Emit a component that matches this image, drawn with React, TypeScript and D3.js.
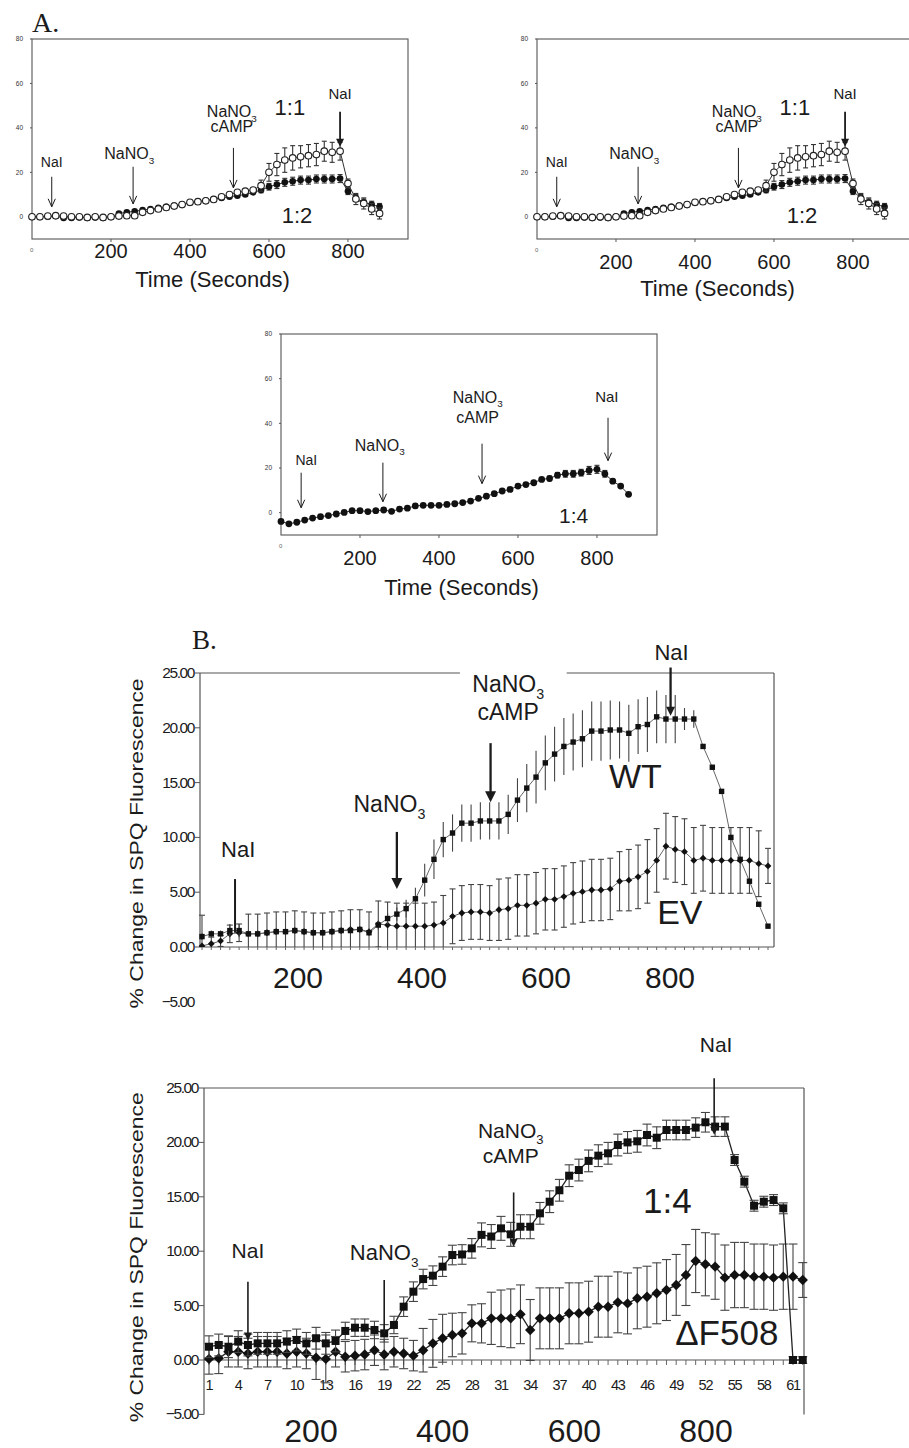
import * as React from "react"
import * as d3 from "d3"

const FONT = "'Liberation Sans', Arial, Helvetica, sans-serif"
const SERIF = "'Liberation Serif', 'Times New Roman', serif"
const INK = "#1b1b1b"

// ---------- panel A : SPQ traces against time (s) ----------
const timesA = [0, 20, 40, 60, 80, 100, 120, 140, 160, 180,
    200, 220, 240, 260, 280, 300, 320, 340, 360, 380,
    400, 420, 440, 460, 480, 500, 520, 540, 560, 580,
    600, 620, 640, 660, 680, 700, 720, 740, 760, 780,
    800, 820, 840, 860, 880]

const ratio11 = [0, 0, 0.3, 0.5, 0.3, 0, 0, -0.3, 0, -0.3,
    0, 0.3, 0.5, 0.5, 2.0, 2.8, 3.5, 4.2, 4.8, 5.5,
    6.5, 6.8, 7.2, 7.8, 9.0, 10.0, 11.0, 11.5, 12.0, 14.0,
    20.0, 23.5, 25.5, 26.5, 27.0, 27.5, 28.0, 29.5, 29.0, 29.5,
    15.0, 8.0, 6.0, 3.5, 1.5]
const ratio11Err = [0, 0, 0, 0, 0, 0, 0, 0, 0, 0,
    0, 0, 0, 0, 0, 0, 0, 0, 0, 0,
    0, 0, 0, 0, 0.8, 0.8, 1.0, 1.0, 1.0, 2.5,
    4.0, 5.0, 5.5, 5.5, 5.0, 5.0, 5.0, 4.5, 4.5, 4.0,
    2.0, 2.5, 2.5, 2.5, 2.5]

const ratio12 = [0, 0, 0, 0.3, -0.5, -0.5, -0.3, -0.5, -0.3, -0.5,
    0, 1.5, 2.0, 2.5, 3.0, 3.5, 4.0, 4.5, 5.0, 5.5,
    6.3, 6.8, 7.3, 7.8, 8.5, 9.0, 9.5, 10.0, 11.0, 12.0,
    13.5, 14.5, 15.5, 16.0, 16.5, 16.5, 17.0, 17.0, 17.0, 17.2,
    11.5, 8.5, 6.5, 5.5, 4.5]
const ratio12Err = [0, 0, 0, 0, 0, 0, 0, 0, 0, 0,
    0, 0, 0, 0, 0, 0, 0, 0, 0, 0,
    0, 0, 0, 0, 0.6, 0.6, 0.6, 0.8, 0.8, 1.2,
    1.5, 1.8, 1.8, 1.8, 1.8, 1.8, 1.8, 1.8, 1.8, 1.8,
    1.5, 1.5, 1.5, 1.5, 1.5]

const ratio14 = [-3.9, -5.0, -4.3, -3.3, -2.4, -1.8, -1.3, -0.6, 0.1, 0.9,
    0.9, 0.5, 0.9, 1.2, 0.6, 1.6, 2.0, 3.0, 3.3, 3.3,
    3.3, 3.7, 4.0, 4.5, 5.2, 6.4, 7.4, 8.5, 9.7, 10.4,
    11.9, 12.6, 13.4, 14.9, 15.3, 16.8, 17.4, 17.4, 17.9, 18.9,
    19.4, 17.4, 14.1, 11.9, 8.2]
const ratio14Err = [0, 0, 0, 0, 0, 0, 0, 0, 0, 0,
    0, 0, 0, 0, 0, 0, 0, 0, 0, 0,
    0, 0, 0, 0, 0, 0, 0, 0, 0, 0,
    0, 0, 0, 0, 1.0, 1.2, 1.5, 1.5, 1.5, 1.8,
    1.8, 1.5, 0.5, 0.5, 0.5]

const yTicksA = [0, 20, 40, 60, 80]
const xTicksA = [200, 400, 600, 800]

// ---------- panel B : % change in SPQ fluorescence per sample ----------
const wtB = [0.95, 1.2, 1.2, 1.5, 1.5, 1.2, 1.2, 1.3, 1.4, 1.4,
    1.5, 1.4, 1.3, 1.3, 1.4, 1.5, 1.5, 1.6, 1.3, 2.0,
    2.6, 3.0, 3.5, 4.4, 6.1, 8.0, 9.8, 10.4, 11.3, 11.3,
    11.5, 11.5, 11.5, 12.1, 13.4, 14.5, 15.5, 16.8, 17.6, 18.3,
    18.7, 19.0, 19.7, 19.7, 19.8, 19.8, 19.5, 20.1, 20.3, 21.0,
    20.8, 20.8, 20.8, 20.8, 18.3, 16.4, 14.2, 10.0, 8.0, 6.0,
    3.9, 1.9]
const wtBErr = [0.3, 0.3, 0.3, 0.6, 0.6, 0.3, 0.3, 0.3, 0.3, 0.3,
    0.3, 0.3, 0.3, 0.3, 0.3, 0.3, 0.3, 0.3, 0.3, 0.4,
    0.5, 0.6, 0.8, 1.0, 1.5, 1.8, 1.6, 1.7, 1.7, 1.7,
    1.7, 1.7, 1.7, 1.8, 2.0, 2.2, 2.4, 2.5, 2.5, 2.6,
    2.6, 2.6, 2.7, 2.7, 2.7, 2.6, 2.6, 2.5, 2.5, 2.4,
    2.2, 2.2, 1.0, 0.8, 0, 0, 0, 0, 0, 0,
    0, 0]
const evB = [0.1, 0.3, 0.55, 1.2, 1.3, 1.2, 1.2, 1.3, 1.4, 1.4,
    1.5, 1.4, 1.3, 1.3, 1.4, 1.5, 1.6, 1.6, 1.4, 2.1,
    2.0, 1.9, 1.9, 1.9, 1.9, 2.0, 2.2, 2.8, 3.1, 3.2,
    3.2, 3.1, 3.4, 3.5, 3.8, 3.8, 4.0, 4.35, 4.35, 4.6,
    4.9, 5.05, 5.2, 5.2, 5.3, 6.0, 6.1, 6.4, 6.9, 7.9,
    9.2, 8.9, 8.7, 7.9, 8.1, 7.9, 7.9, 7.9, 7.9, 7.9,
    7.6, 7.4]
const evBErr = [2.8, 0.6, 0.5, 0.8, 0.8, 1.8, 1.8, 1.8, 1.8, 1.8,
    1.8, 1.8, 1.8, 1.8, 1.8, 1.8, 1.8, 1.8, 1.8, 2.1,
    2.1, 2.1, 2.1, 2.1, 2.1, 2.1, 2.5, 2.5, 2.5, 2.5,
    2.5, 2.5, 2.8, 2.8, 2.8, 2.8, 2.8, 2.8, 2.8, 2.8,
    2.8, 2.8, 2.8, 2.8, 2.8, 2.7, 2.8, 2.9, 2.9, 2.9,
    3.0, 3.0, 3.0, 3.0, 3.0, 3.0, 3.0, 3.0, 3.0, 3.0,
    3.0, 1.6]

const wt14 = [1.22, 1.38, 1.22, 1.69, 1.38, 1.53, 1.53, 1.53, 1.69, 1.84,
    1.53, 2.0, 1.53, 1.75, 2.67, 2.97, 2.97, 2.76, 2.45, 3.22,
    4.9, 6.28, 7.44, 7.75, 8.58, 9.65, 9.7, 10.26, 11.5, 11.35,
    12.1, 11.55, 12.25, 12.25, 13.48, 14.55, 15.6, 16.94, 17.46, 18.3,
    18.78, 19.0, 19.76, 20.0, 20.1, 20.68, 20.43, 21.14, 21.14, 21.14,
    21.36, 21.85, 21.45, 21.45, 18.38, 16.39, 14.18, 14.55, 14.7, 13.94,
    0, 0]
const wt14Err = [1.0, 1.0, 1.0, 1.0, 1.0, 1.0, 1.0, 1.0, 1.0, 1.0,
    1.0, 1.0, 1.0, 1.0, 0.8, 0.8, 0.8, 0.8, 0.8, 0.8,
    0.9, 0.9, 0.9, 0.9, 0.9, 0.9, 0.9, 0.9, 1.1, 1.1,
    1.1, 1.1, 1.1, 1.1, 1.0, 1.0, 1.0, 1.0, 1.0, 1.0,
    1.0, 1.0, 1.0, 1.0, 1.0, 1.0, 1.0, 0.9, 0.9, 0.9,
    0.9, 0.9, 0.9, 0.9, 0.5, 0.5, 0.5, 0.5, 0.5, 0.5,
    0.3, 0.3]
const df508 = [0.1, 0.15, 0.76, 0.76, 0.6, 0.76, 0.76, 0.76, 0.6, 0.76,
    0.6, 0.21, 0.1, 0.76, 0.3, 0.4, 0.5, 0.9, 0.5, 0.76,
    0.6, 0.4, 0.9, 1.53, 2.0, 2.3, 2.45, 3.37, 3.37, 3.83,
    3.83, 3.83, 4.2, 2.76, 3.83, 3.83, 3.83, 4.29, 4.29, 4.44,
    4.9, 4.9, 5.3, 5.2, 5.67, 5.82, 6.13, 6.43, 6.9, 7.81,
    9.1, 8.8, 8.58, 7.57, 7.81, 7.81, 7.66, 7.66, 7.57, 7.66,
    7.66, 7.35]
const df508Err = [1.4, 1.4, 1.4, 1.4, 1.4, 1.4, 1.4, 1.4, 1.4, 1.4,
    1.4, 2.0, 2.2, 1.4, 1.4, 1.4, 1.4, 1.4, 1.4, 1.4,
    1.4, 1.4, 2.0, 2.2, 2.2, 2.0, 1.9, 1.7, 1.8, 2.4,
    2.6, 2.7, 2.7, 2.8, 2.8, 2.8, 2.8, 2.8, 2.8, 2.8,
    2.8, 2.8, 2.8, 2.8, 2.8, 2.8, 2.8, 2.8, 2.8, 2.8,
    2.9, 2.9, 3.0, 3.0, 3.0, 3.0, 3.0, 3.0, 3.0, 3.0,
    3.0, 1.6]

const yTicksB = [25, 20, 15, 10, 5, 0, -5]
const sampleTicks = [1, 4, 7, 10, 13, 16, 19, 22, 25, 28, 31, 34, 37, 40, 43, 46, 49, 52, 55, 58, 61]
const secondTicks = [200, 400, 600, 800]

type Sel = d3.Selection<SVGGElement, unknown, null, undefined>
type Marker = "open" | "dot" | "square" | "diamond"

interface Series {
    values: number[]
    errors: number[]
    marker: Marker
    size: number
    cap: number
}

interface Note {
    x: number        // arrow position (x units)
    labelX: number
    labelYs: number[] // data units
    lines: string[]
    y1: number
    y2: number
    head: "v" | "fill" | "none"
    headSize: number
    width: number
    fs: number
}

interface Tag { text: string, x: number, y: number, fs: number }

// text, with "_" marking a subscript
function label(g: Sel, x: number, y: number, str: string, fs: number, anchor = "middle") {
    const t = g.append("text").attr("x", x).attr("y", y)
        .attr("font-family", FONT).attr("font-size", fs)
        .attr("text-anchor", anchor).attr("fill", INK)
    const parts = str.split("_")
    t.append("tspan").text(parts[0])
    if (parts[1]) {
        t.append("tspan").attr("font-size", fs * 0.62).attr("dy", fs * 0.3).text(parts[1])
    }
    return t
}

function arrow(g: Sel, x: number, ya: number, yb: number, n: Note) {
    const end = n.head === "fill" ? yb - n.headSize * 0.8 : yb
    g.append("line").attr("x1", x).attr("x2", x).attr("y1", ya).attr("y2", end)
        .attr("stroke", INK).attr("stroke-width", n.width)
    const s = n.headSize
    if (n.head === "v") {
        g.append("polyline")
            .attr("points", `${x - s * 0.45},${yb - s} ${x},${yb} ${x + s * 0.45},${yb - s}`)
            .attr("fill", "none").attr("stroke", INK).attr("stroke-width", 1)
    } else if (n.head === "fill") {
        g.append("path")
            .attr("d", `M${x - s * 0.5},${yb - s}L${x + s * 0.5},${yb - s}L${x},${yb}Z`)
            .attr("fill", INK)
    }
}

function drawSeries(g: Sel, s: Series, xs: number[], x: d3.ScaleLinear<number, number>,
    y: d3.ScaleLinear<number, number>, lineColor: string, lineWidth: number, barColor: string) {
    const line = d3.line<number>().x((_, i) => x(xs[i])).y(d => y(d))
    g.append("path").attr("d", line(s.values)).attr("fill", "none")
        .attr("stroke", lineColor).attr("stroke-width", lineWidth)

    s.values.forEach((v, i) => {
        const e = s.errors[i]
        if (!e) return
        const cx = x(xs[i])
        g.append("line").attr("x1", cx).attr("x2", cx).attr("y1", y(v - e)).attr("y2", y(v + e))
            .attr("stroke", barColor).attr("stroke-width", 1.1)
        if (s.cap > 0) {
            [v - e, v + e].forEach(w => {
                g.append("line").attr("x1", cx - s.cap).attr("x2", cx + s.cap)
                    .attr("y1", y(w)).attr("y2", y(w))
                    .attr("stroke", barColor).attr("stroke-width", 1.1)
            })
        }
    })

    s.values.forEach((v, i) => {
        const cx = x(xs[i]), cy = y(v), r = s.size
        if (s.marker === "open") {
            g.append("circle").attr("cx", cx).attr("cy", cy).attr("r", r)
                .attr("fill", "#fff").attr("stroke", "#222").attr("stroke-width", 1.1)
        } else if (s.marker === "dot") {
            g.append("circle").attr("cx", cx).attr("cy", cy).attr("r", r).attr("fill", "#111")
        } else if (s.marker === "square") {
            g.append("rect").attr("x", cx - r).attr("y", cy - r)
                .attr("width", 2 * r).attr("height", 2 * r).attr("fill", "#111")
        } else {
            g.append("path")
                .attr("d", `M${cx},${cy - r}L${cx + r},${cy}L${cx},${cy + r}L${cx - r},${cy}Z`)
                .attr("fill", "#111")
        }
    })
}

interface PanelA {
    left: number, top: number, width: number, height: number
    series: Series[], notes: Note[], tags: Tag[]
    tickBase: number, titleBase: number
}

function drawPanelA(root: Sel, c: PanelA) {
    const g = root.append("g")
    const x = d3.scaleLinear().domain([0, 952]).range([c.left, c.left + c.width])
    const y = d3.scaleLinear().domain([-10, 80]).range([c.top + c.height, c.top])

    g.append("rect").attr("x", c.left).attr("y", c.top).attr("width", c.width).attr("height", c.height)
        .attr("fill", "none").attr("stroke", "#555").attr("stroke-width", 1.1)

    yTicksA.forEach(v => {
        g.append("line").attr("x1", c.left - 2).attr("x2", c.left).attr("y1", y(v)).attr("y2", y(v))
            .attr("stroke", "#555")
        g.append("text").attr("x", c.left - 9).attr("y", y(v) + 2.2).attr("text-anchor", "end")
            .attr("font-family", FONT).attr("font-size", 6.5).attr("fill", "#333").text(v)
    })
    g.append("text").attr("x", c.left - 2).attr("y", c.top + c.height + 13)
        .attr("font-family", FONT).attr("font-size", 6).attr("fill", "#666").text("0")

    xTicksA.forEach(v => {
        g.append("line").attr("x1", x(v)).attr("x2", x(v))
            .attr("y1", c.top + c.height).attr("y2", c.top + c.height + 3).attr("stroke", "#555")
        label(g, x(v), c.tickBase, String(v), 20)
    })
    label(g, c.left + c.width * 0.48, c.titleBase, "Time (Seconds)", 22)

    c.series.forEach(s => drawSeries(g, s, timesA, x, y, "#333", 1, "#333"))

    c.notes.forEach(n => {
        n.lines.forEach((ln, k) => label(g, x(n.labelX), y(n.labelYs[k]), ln, n.fs))
        arrow(g, x(n.x), y(n.y1), y(n.y2), n)
    })
    c.tags.forEach(t => label(g, x(t.x), y(t.y), t.text, t.fs))
}

const notesTop: Note[] = [
    { x: 50, labelX: 50, labelYs: [22.5], lines: ["NaI"], y1: 18, y2: 4.5, head: "v", headSize: 8, width: 1, fs: 14 },
    { x: 256, labelX: 246, labelYs: [26], lines: ["NaNO_3"], y1: 22.5, y2: 5.8, head: "v", headSize: 8, width: 1, fs: 16 },
    { x: 510, labelX: 506, labelYs: [45, 38.3], lines: ["NaNO_3", "cAMP"], y1: 31, y2: 13, head: "v", headSize: 8, width: 1, fs: 16 },
    { x: 780, labelX: 780, labelYs: [53], lines: ["NaI"], y1: 47.3, y2: 31.5, head: "fill", headSize: 8, width: 1.8, fs: 15 },
]
const tagsTop: Tag[] = [
    { text: "1:1", x: 653, y: 46, fs: 22 },
    { text: "1:2", x: 671, y: -2.7, fs: 22 },
]
const notesMid: Note[] = [
    { x: 51, labelX: 64, labelYs: [21.5], lines: ["NaI"], y1: 17.9, y2: 2.2, head: "v", headSize: 8, width: 1, fs: 14 },
    { x: 258, labelX: 250, labelYs: [27.8], lines: ["NaNO_3"], y1: 22.4, y2: 4.9, head: "v", headSize: 8, width: 1, fs: 16 },
    { x: 509, labelX: 498, labelYs: [49.3, 40.3], lines: ["NaNO_3", "cAMP"], y1: 30.9, y2: 13, head: "v", headSize: 8, width: 1, fs: 16 },
    { x: 828, labelX: 825, labelYs: [49.7], lines: ["NaI"], y1: 42.5, y2: 23.3, head: "v", headSize: 8, width: 1, fs: 15 },
]
const tagsMid: Tag[] = [{ text: "1:4", x: 741, y: -4.5, fs: 21 }]

interface PanelB {
    id: string
    left: number, right: number, top: number, bottom: number, axisBottom: number
    idx0: number, idx1: number, px0: number, px1: number
    sec: [number, number], secBase: number, secFs: number
    series: Series[], notes: Note[], tags: Tag[]
    start: number, gap: [number, number] | null, sampleLabels: boolean, labelY: number
    lineColor: string, lineWidth: number, barColor: string, clipAtZero: boolean
}

function drawPanelB(root: Sel, c: PanelB) {
    const g = root.append("g")
    const x = d3.scaleLinear().domain([c.idx0, c.idx1]).range([c.px0, c.px1])
    const y = d3.scaleLinear().domain([0, 25]).range([c.bottom, c.top])
    const sx = d3.scaleLinear().domain([200, 800]).range(c.sec)
    const frame = { stroke: "#555", w: 1.2 }

    // frame
    const yLow = y(c.axisBottom)
    g.append("line").attr("x1", c.left).attr("x2", c.left).attr("y1", c.top).attr("y2", yLow)
        .attr("stroke", frame.stroke).attr("stroke-width", frame.w)
    g.append("line").attr("x1", c.right).attr("x2", c.right).attr("y1", c.top).attr("y2", yLow)
        .attr("stroke", frame.stroke).attr("stroke-width", frame.w)
    if (c.gap) {
        g.append("line").attr("x1", c.left).attr("x2", x(c.gap[0])).attr("y1", c.top).attr("y2", c.top)
            .attr("stroke", frame.stroke).attr("stroke-width", frame.w)
        g.append("line").attr("x1", x(c.gap[1])).attr("x2", c.right).attr("y1", c.top).attr("y2", c.top)
            .attr("stroke", frame.stroke).attr("stroke-width", frame.w)
    } else {
        g.append("line").attr("x1", c.left).attr("x2", c.right).attr("y1", c.top).attr("y2", c.top)
            .attr("stroke", frame.stroke).attr("stroke-width", frame.w)
    }
    g.append("line").attr("x1", c.left).attr("x2", c.right).attr("y1", y(0)).attr("y2", y(0))
        .attr("stroke", frame.stroke).attr("stroke-width", frame.w)

    const xs = c.series[0].values.map((_, i) => i + c.start)
    xs.forEach(i => {
        g.append("line").attr("x1", x(i)).attr("x2", x(i)).attr("y1", y(0)).attr("y2", y(0) + (c.sampleLabels ? 5 : 3))
            .attr("stroke", "#666")
    })
    if (c.sampleLabels) {
        sampleTicks.forEach(t => {
            g.append("text").attr("x", x(t)).attr("y", c.labelY).attr("text-anchor", "middle")
                .attr("font-family", FONT).attr("font-size", 14.5).attr("letter-spacing", -1.2)
                .attr("fill", INK).text(t)
        })
    }

    // y ticks
    yTicksB.forEach(v => {
        if (v >= c.axisBottom) {
            g.append("line").attr("x1", c.left - 5).attr("x2", c.left).attr("y1", y(v)).attr("y2", y(v))
                .attr("stroke", "#555")
        }
        g.append("text").attr("x", c.left - 6).attr("y", y(v) + 5).attr("text-anchor", "end")
            .attr("font-family", FONT).attr("font-size", 15.5).attr("letter-spacing", -1.4)
            .attr("fill", INK).text(d3.format(".2f")(v))
    })
    secondTicks.forEach(s => label(g, sx(s), c.secBase, String(s), c.secFs))

    g.append("text")
        .attr("transform", `translate(143,${(y(25) + y(-5)) / 2 + 6}) rotate(-90)`)
        .attr("text-anchor", "middle").attr("font-family", FONT).attr("font-size", 19)
        .attr("textLength", 330).attr("lengthAdjust", "spacingAndGlyphs")
        .attr("fill", INK).text("% Change in SPQ Fluorescence")

    // data, optionally cut off at the x axis
    let data = g
    if (c.clipAtZero) {
        root.append("clipPath").attr("id", c.id)
            .append("rect").attr("x", c.left - 10).attr("y", c.top - 40)
            .attr("width", c.right - c.left + 20).attr("height", y(0) - c.top + 40)
        data = g.append("g").attr("clip-path", `url(#${c.id})`)
    }
    c.series.forEach(s => drawSeries(data, s, xs, x, y, c.lineColor, c.lineWidth, c.barColor))

    c.notes.forEach(nt => {
        nt.lines.forEach((ln, k) => label(g, x(nt.labelX), y(nt.labelYs[k]), ln, nt.fs))
        arrow(g, x(nt.x), y(nt.y1), y(nt.y2), nt)
    })
    c.tags.forEach(t => label(g, x(t.x), y(t.y), t.text, t.fs))
}

const notesB1: Note[] = [
    { x: 3.56, labelX: 3.9, labelYs: [8.2], lines: ["NaI"], y1: 6.2, y2: 1.3, head: "none", headSize: 0, width: 2, fs: 22 },
    { x: 21.0, labelX: 20.2, labelYs: [12.3], lines: ["NaNO_3"], y1: 10.5, y2: 5.3, head: "fill", headSize: 11, width: 2.3, fs: 23 },
    { x: 31.1, labelX: 33, labelYs: [23.3, 20.7], lines: ["NaNO_3", "cAMP"], y1: 18.6, y2: 13.2, head: "fill", headSize: 11, width: 2.3, fs: 23 },
    { x: 50.5, labelX: 50.6, labelYs: [26.2], lines: ["NaI"], y1: 25.5, y2: 21.1, head: "fill", headSize: 9, width: 2.3, fs: 22 },
]
const tagsB1: Tag[] = [
    { text: "WT", x: 46.7, y: 14.5, fs: 34 },
    { text: "EV", x: 51.5, y: 2.1, fs: 34 },
]
const notesB2: Note[] = [
    { x: 5.0, labelX: 5.0, labelYs: [9.4], lines: ["NaI"], y1: 7.2, y2: 1.8, head: "fill", headSize: 8, width: 1.6, fs: 21 },
    { x: 19.0, labelX: 19.0, labelYs: [9.2], lines: ["NaNO_3"], y1: 7.35, y2: 2.5, head: "none", headSize: 0, width: 1.6, fs: 22 },
    { x: 32.3, labelX: 32.0, labelYs: [20.4, 18.1], lines: ["NaNO_3", "cAMP"], y1: 15.4, y2: 10.4, head: "fill", headSize: 8, width: 1.6, fs: 21 },
    { x: 52.9, labelX: 53.1, labelYs: [28.3], lines: ["NaI"], y1: 25.9, y2: 20.7, head: "fill", headSize: 8, width: 1.6, fs: 21 },
]
const tagsB2: Tag[] = [
    { text: "1:4", x: 48.1, y: 13.5, fs: 35 },
    { text: "\u0394F508", x: 54.2, y: 1.4, fs: 35 },
]

function App() {
    const ref = React.useRef<SVGSVGElement | null>(null)

    React.useEffect(() => {
        const svg = d3.select(ref.current)
        svg.selectAll("*").remove()
        const root = svg.append("g") as unknown as Sel
        root.append("rect").attr("width", 909).attr("height", 1448).attr("fill", "#fff")

        const topSeries: Series[] = [
            { values: ratio12, errors: ratio12Err, marker: "dot", size: 3.3, cap: 2.5 },
            { values: ratio11, errors: ratio11Err, marker: "open", size: 3.3, cap: 2.5 },
        ]
        drawPanelA(root, { left: 32, top: 39, width: 376, height: 200, series: topSeries,
            notes: notesTop, tags: tagsTop, tickBase: 258, titleBase: 287 })
        drawPanelA(root, { left: 537, top: 39, width: 376, height: 200, series: topSeries,
            notes: notesTop, tags: tagsTop, tickBase: 269, titleBase: 296 })
        drawPanelA(root, { left: 281, top: 334, width: 376, height: 201,
            series: [{ values: ratio14, errors: ratio14Err, marker: "dot", size: 3.4, cap: 2.5 }],
            notes: notesMid, tags: tagsMid, tickBase: 565, titleBase: 595 })

        root.append("text").attr("x", 32).attr("y", 32).attr("font-family", SERIF)
            .attr("font-size", 28).attr("fill", INK).text("A.")
        root.append("text").attr("x", 192).attr("y", 649).attr("font-family", SERIF)
            .attr("font-size", 27).attr("fill", INK).text("B.")

        drawPanelB(root, {
            id: "clip-b1",
            left: 200, right: 774, top: 673, bottom: 947, axisBottom: 0,
            idx0: 0, idx1: 61, px0: 202, px1: 768,
            sec: [298, 670], secBase: 988, secFs: 30,
            series: [
                { values: evB, errors: evBErr, marker: "diamond", size: 3.4, cap: 3 },
                { values: wtB, errors: wtBErr, marker: "square", size: 2.7, cap: 0 },
            ],
            notes: notesB1, tags: tagsB1, start: 0, gap: [27.8, 39.3], sampleLabels: false, labelY: 0,
            lineColor: "#666", lineWidth: 1, barColor: "#444", clipAtZero: true,
        })
        drawPanelB(root, {
            id: "clip-b2",
            left: 204, right: 804, top: 1088, bottom: 1360, axisBottom: -5,
            idx0: 1, idx1: 61, px0: 209, px1: 793,
            sec: [311, 706], secBase: 1442, secFs: 32,
            series: [
                { values: df508, errors: df508Err, marker: "diamond", size: 5.2, cap: 4.5 },
                { values: wt14, errors: wt14Err, marker: "square", size: 4, cap: 4.5 },
            ],
            notes: notesB2, tags: tagsB2, start: 1, gap: null, sampleLabels: true, labelY: 1390,
            lineColor: "#222", lineWidth: 1.3, barColor: "#444", clipAtZero: false,
        })
    }, [])

    return (
        <svg ref={ref} width={909} height={1448}
            style={{ position: "absolute", left: 0, top: 0, display: "block" }} />
    )
}

export default App
